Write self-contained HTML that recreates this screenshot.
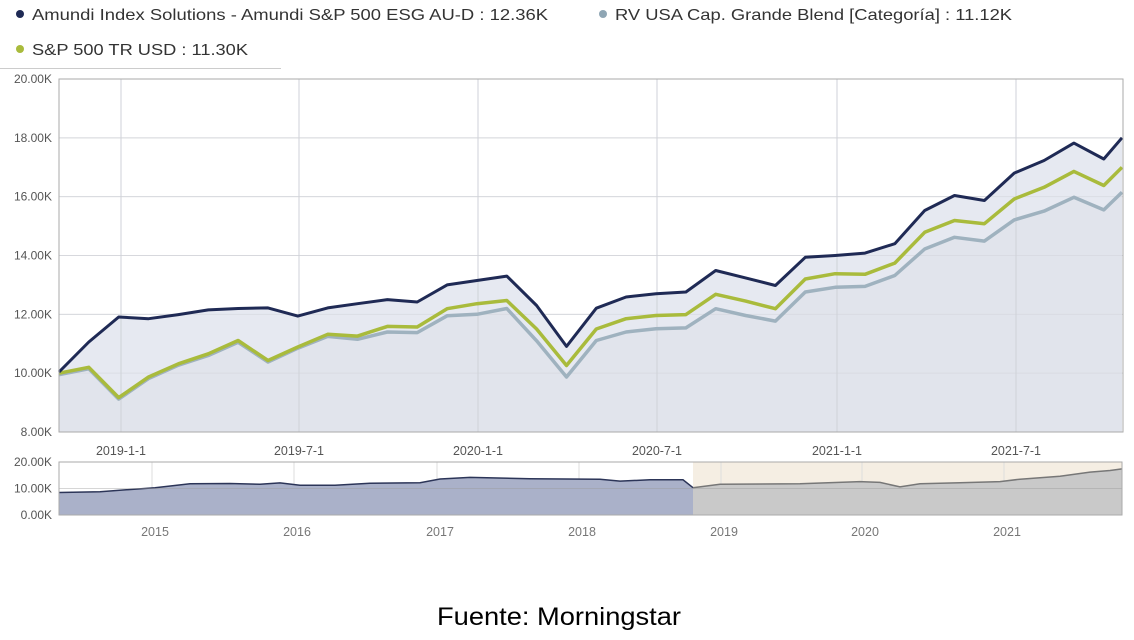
<!DOCTYPE html>
<html><head><meta charset="utf-8"><style>
html,body{margin:0;padding:0;background:#fff;width:1134px;height:640px;overflow:hidden}
svg{display:block}
text{font-family:"Liberation Sans","DejaVu Sans",sans-serif}
</style></head><body>
<svg id="s" width="1134" height="640" viewBox="0 0 1134 640" xmlns="http://www.w3.org/2000/svg">
<rect width="1134" height="640" fill="#fff"/>
<circle cx="20" cy="14" r="4" fill="#1f2a55"/>
<text x="32" y="20" font-size="16" fill="#333" textLength="516" lengthAdjust="spacingAndGlyphs">Amundi Index Solutions - Amundi S&amp;P 500 ESG AU-D : 12.36K</text>
<circle cx="603" cy="14" r="4" fill="#8fa6b4"/>
<text x="615" y="20" font-size="16" fill="#333" textLength="397" lengthAdjust="spacingAndGlyphs">RV USA Cap. Grande Blend [Categoría] : 11.12K</text>
<circle cx="20" cy="49" r="4" fill="#a9bb3c"/>
<text x="32" y="55" font-size="16" fill="#333" textLength="216" lengthAdjust="spacingAndGlyphs">S&amp;P 500 TR USD : 11.30K</text>
<line x1="0" y1="68.5" x2="281" y2="68.5" stroke="#ccc"/>
<g id="main"></g>
<g id="nav"></g>
<text x="437" y="625" font-size="25" fill="#000" textLength="244" lengthAdjust="spacingAndGlyphs">Fuente: Morningstar</text>
</svg>
<script>
var NS="http://www.w3.org/2000/svg";
function el(p,t,a,txt){var e=document.createElementNS(NS,t);for(var k in a)e.setAttribute(k,a[k]);if(txt!=null)e.textContent=txt;p.appendChild(e);return e;}
var m=document.getElementById("main");
var L=59,R=1123,T=79,B=432;
function Y(v){return B-(v-8)*(B-T)/12;}
for(var v=8;v<=20;v+=2){el(m,"line",{x1:L,x2:R,y1:Y(v),y2:Y(v),stroke:"#ddd"});
el(m,"text",{x:52,y:Y(v)+4,"font-size":12,fill:"#555","text-anchor":"end"},v.toFixed(2)+"K");}
var gx=[121,299,478,657,837,1016],gl=["2019-1-1","2019-7-1","2020-1-1","2020-7-1","2021-1-1","2021-7-1"];
var navy=[10.04,11.06,11.91,11.85,11.99,12.15,12.2,12.22,11.94,12.22,12.36,12.5,12.42,13.0,13.15,13.3,12.3,10.91,12.21,12.59,12.7,12.76,13.49,13.24,12.98,13.94,14.0,14.08,14.4,15.53,16.04,15.87,16.8,17.23,17.82,17.28,18.0];
var green=[10.0,10.2,9.17,9.87,10.32,10.66,11.11,10.43,10.89,11.32,11.26,11.59,11.57,12.19,12.36,12.47,11.5,10.26,11.5,11.85,11.96,11.99,12.68,12.45,12.19,13.2,13.38,13.36,13.74,14.79,15.19,15.08,15.92,16.32,16.86,16.38,17.0];
var grey=[9.95,10.15,9.12,9.82,10.27,10.6,11.05,10.38,10.85,11.25,11.15,11.4,11.38,11.95,12.0,12.2,11.1,9.87,11.11,11.4,11.51,11.54,12.19,11.96,11.77,12.76,12.92,12.95,13.32,14.22,14.62,14.49,15.21,15.51,15.98,15.55,16.15];
function X(i){return i==36?1122:59+29.85*i;}
function pts(a){return a.map(function(v,i){return X(i).toFixed(1)+","+Y(v).toFixed(1);}).join(" ");}
el(m,"polygon",{points:"59,"+B+" "+pts(navy)+" 1122,"+B,fill:"#e6e9f1"});
el(m,"polygon",{points:"59,"+B+" "+pts(grey)+" 1122,"+B,fill:"#e1e4ec"});
for(var v=8;v<=20;v+=2)el(m,"line",{x1:L,x2:R,y1:Y(v),y2:Y(v),stroke:"#d4d6dd","stroke-opacity":0.6});
gx.forEach(function(x,i){el(m,"line",{x1:x,x2:x,y1:T,y2:B,stroke:"#cfd2d8"});
el(m,"text",{x:x,y:455,"font-size":12.5,fill:"#555","text-anchor":"middle"},gl[i]);});
el(m,"polyline",{points:pts(grey),fill:"none",stroke:"#9fb2bf","stroke-width":3.5,"stroke-linejoin":"round"});
el(m,"polyline",{points:pts(green),fill:"none",stroke:"#a9bb3c","stroke-width":3.5,"stroke-linejoin":"round"});
el(m,"polyline",{points:pts(navy),fill:"none",stroke:"#1f2a55","stroke-width":3,"stroke-linejoin":"round"});
el(m,"rect",{x:L,y:T,width:R-L,height:B-T,fill:"none",stroke:"#aaa"});
var n=document.getElementById("nav");
var nT=462,nB=515,nL=59,nR=1122;
function NY(v){return nB-v*(nB-nT)/20;}
el(n,"rect",{x:693,y:nT,width:nR-693,height:nB-nT,fill:"#f5eee3"});
var yrs=[["2015",155],["2016",297],["2017",440],["2018",582],["2019",724],["2020",865],["2021",1007]];
yrs.forEach(function(y){el(n,"line",{x1:y[1]-3,x2:y[1]-3,y1:nT,y2:nB,stroke:"#ddd"});
el(n,"text",{x:y[1],y:536,"font-size":12.5,fill:"#777","text-anchor":"middle"},y[0]);});
var nv=[[59,8.5],[100,8.8],[155,10.3],[190,11.8],[230,11.9],[260,11.6],[280,12.1],[300,11.2],[335,11.2],[370,12.0],[420,12.2],[440,13.6],[470,14.2],[530,13.7],[600,13.5],[620,12.8],[650,13.3],[683,13.3],[693,10.3],[720,11.6],[800,11.8],[860,12.6],[880,12.3],[900,10.6],[920,11.8],[960,12.2],[1000,12.6],[1020,13.5],[1060,14.6],[1090,16.2],[1110,16.8],[1122,17.4]];
function npts(a){return a.map(function(p){return p[0]+","+NY(p[1]).toFixed(1);}).join(" ");}
var left=nv.filter(function(p){return p[0]<=693;}),right=nv.filter(function(p){return p[0]>=693;});
el(n,"polygon",{points:"59,"+nB+" "+npts(left)+" 693,"+nB,fill:"#aab1c9"});
el(n,"polygon",{points:"693,"+nB+" "+npts(right)+" 1122,"+nB,fill:"#c9c9c9"});
el(n,"polyline",{points:npts(left),fill:"none",stroke:"#2c3558","stroke-width":1.5});
el(n,"polyline",{points:npts(right),fill:"none",stroke:"#777","stroke-width":1.5});
el(n,"line",{x1:nL,x2:nR,y1:NY(10),y2:NY(10),stroke:"#999","stroke-opacity":0.4});
el(n,"rect",{x:nL,y:nT,width:nR-nL,height:nB-nT,fill:"none",stroke:"#aaa"});
[[20,"20.00K"],[10,"10.00K"],[0,"0.00K"]].forEach(function(p){el(n,"text",{x:52,y:NY(p[0])+4,"font-size":12,fill:"#555","text-anchor":"end"},p[1]);});
</script>
</body></html>
